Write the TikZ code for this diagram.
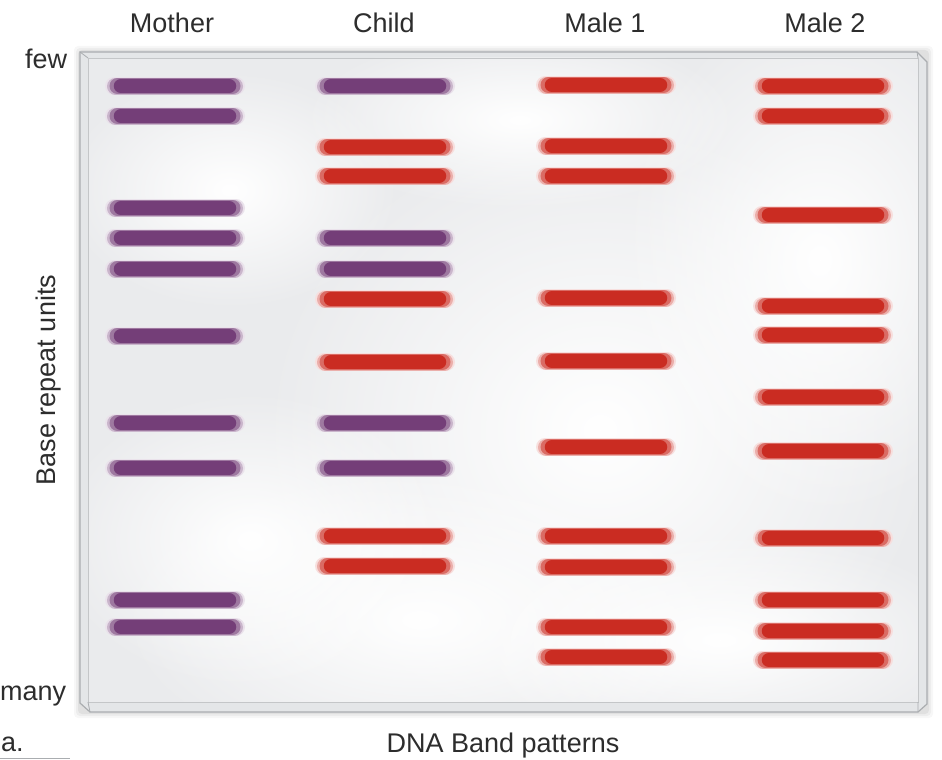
\documentclass[tikz,border=0pt]{standalone}
\usepackage{fontspec}
\setmainfont{Liberation Sans}
\usetikzlibrary{fadings}
\definecolor{gelbg}{RGB}{234,235,237}
\definecolor{gelline}{RGB}{170,173,176}
\definecolor{bevel}{RGB}{228,230,232}
\definecolor{bandpurple}{RGB}{116,62,120}
\definecolor{bandred}{RGB}{202,44,34}
\definecolor{textgray}{RGB}{45,45,45}
\tikzfading[name=softblob, inner color=transparent!0, outer color=transparent!100]
\newcommand\gelband[4]{%
  \draw[line cap=round, line width=18, draw=#4!15] ({#1+9},#3) -- ({#2-9},#3);
  \draw[line cap=round, line width=17, draw=#4!38] ({#1+10.5},#3) -- ({#2-10.5},#3);
  \draw[line cap=round, line width=16, draw=#4!70] ({#1+12.5},#3) -- ({#2-12.5},#3);
  \draw[line cap=round, line width=14.5, draw=#4] ({#1+16},#3) -- ({#2-16},#3);
}
\begin{document}
\begin{tikzpicture}[x=1pt,y=-1pt,
  lbl/.style={font=\fontsize{27}{31}\selectfont, text=textgray, inner sep=0pt}]
\useasboundingbox[fill=white] (0,0) rectangle (942,760);
% soft shadow
\foreach \d/\o in {6/0.03,4/0.04,2/0.05}{
  \fill[black, opacity=\o, rounded corners=4] (80-\d,52-\d) rectangle (927+\d,712+\d);
}
% gel slab outer
\fill[bevel, draw=gelline, line width=1.2] (80,52) -- (917,52) -- (927,62) -- (927,704) -- (918,712) -- (90,712) -- (80,703) -- cycle;
% front face
\fill[gelbg] (88,58) rectangle (918,702);
\begin{scope}
\clip (88,58) rectangle (918,702);
\fill[white, path fading=softblob] (600,430) ellipse (340 and 310);
\fill[white, path fading=softblob] (420,620) ellipse (300 and 150);
\fill[white, path fading=softblob] (820,260) ellipse (200 and 260);
\fill[white, path fading=softblob] (230,190) ellipse (170 and 120);
\fill[white, path fading=softblob] (720,640) ellipse (260 and 110);
\fill[white, path fading=softblob] (250,540) ellipse (200 and 150);
\fill[white, path fading=softblob] (520,120) ellipse (220 and 90);
\end{scope}
\draw[gelline!70, line width=0.8] (88,58) rectangle (918,702);
\draw[gelline, line width=0.8] (80,52) -- (88,58) (917,52) -- (918,58) (918,702) -- (918,712) (88,702) -- (90,712);
% labels
\node[lbl, anchor=base] (mother) at (172,33) {Mother};
\node[lbl, anchor=base] (child) at (384,33) {Child};
\node[lbl, anchor=base] (male1) at (605,33) {Male 1};
\node[lbl, anchor=base] (male2) at (825,33) {Male 2};
\node[lbl, anchor=base west] (few) at (25,68) {few};
\node[lbl, anchor=base west] (many) at (0,700) {many};
\node[lbl, anchor=base, rotate=90] (axis) at (55,380) {Base repeat units};
\node[lbl, anchor=base west] (a) at (1,751) {a.};
\node[lbl, anchor=base] (xaxis) at (503,752) {DNA Band patterns};
\draw[gelline, line width=1] (0,758) -- (70,758);
% Mother
\foreach \y in {86,116,208,238,269,336,423,468,600,627}{\gelband{105}{245}{\y}{bandpurple}}
% Child
\foreach \y in {86,238,269,423,468}{\gelband{315}{455}{\y}{bandpurple}}
\foreach \y in {147,176,299,362,536,566}{\gelband{315}{455}{\y}{bandred}}
% Male 1
\foreach \y in {85,146,176,298,361,447,536,567,627,657}{\gelband{536}{676}{\y}{bandred}}
% Male 2
\foreach \y in {86,116,215,306,335,397,451,538,600,631,660}{\gelband{753}{893}{\y}{bandred}}
\end{tikzpicture}
\end{document}
